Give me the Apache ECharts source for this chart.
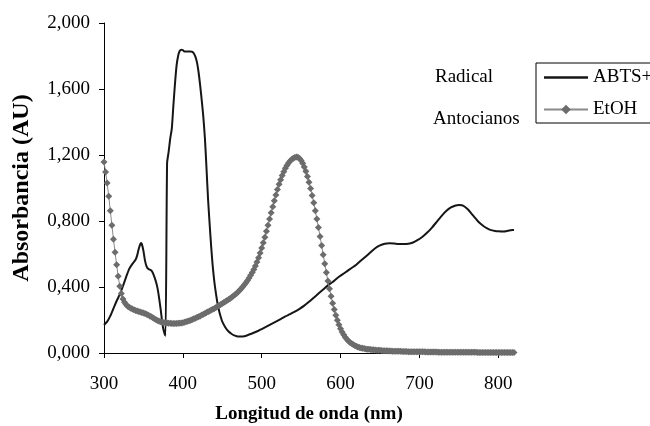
<!DOCTYPE html>
<html><head><meta charset="utf-8">
<script src="https://cdn.jsdelivr.net/npm/echarts@6/dist/echarts.min.js"></script>
<style>html,body{margin:0;padding:0;background:#fff}#c{width:650px;height:426px}</style>
</head><body><div id="c"></div>
<script>
const xTicks = [300, 400, 500, 600, 700, 800];
const yTicks = [0, 0.4, 0.8, 1.2, 1.6, 2.0];
const seriesNames = ['ABTS+', 'EtOH'];
const sideLabels = ['Radical', 'Antocianos'];

const abtsNm = [300,304,308,312,316,320,324,328,332,336,340,342,344,346,347,348,350,352,354,356,360,362,364,366,368,370,372,374,376,378,
  380,382,384,386,388,390,392,394,396,398,400,402,404,406,408,410,412,414,416,418,420,422,424,426,428,430,432,434,436,438,440,442,444,446,448,450,
  454,458,462,466,470,474,478,482,486,490,496,500,506,512,518,524,530,536,542,548,554,560,566,572,578,584,590,596,602,608,614,620,626,632,638,644,650,656,662,668,674,680,686,692,698,704,710,716,722,728,734,740,746,750,754,758,762,766,770,774,778,782,786,790,796,800,806,810,814,818,820];
const abtsAbs = [0.170,0.190,0.225,0.270,0.315,0.355,0.405,0.460,0.510,0.540,0.565,0.590,0.630,0.660,0.667,0.660,0.620,0.560,0.525,0.510,0.500,0.485,0.460,0.430,0.390,0.330,0.260,0.180,0.130,0.105,
  1.150,1.220,1.300,1.360,1.500,1.630,1.740,1.800,1.830,1.838,1.835,1.828,1.828,1.828,1.828,1.828,1.825,1.815,1.795,1.760,1.700,1.620,1.530,1.430,1.300,1.120,0.930,0.780,0.640,0.520,0.430,0.360,0.300,0.255,0.220,0.190,
  0.155,0.130,0.115,0.105,0.100,0.100,0.102,0.108,0.115,0.123,0.135,0.145,0.160,0.175,0.190,0.206,0.222,0.236,0.251,0.268,0.287,0.310,0.335,0.360,0.385,0.410,0.430,0.455,0.475,0.495,0.515,0.535,0.560,0.585,0.610,0.635,0.652,0.662,0.665,0.663,0.660,0.660,0.662,0.670,0.685,0.705,0.730,0.760,0.795,0.830,0.860,0.882,0.894,0.897,0.895,0.885,0.868,0.845,0.822,0.800,0.782,0.767,0.755,0.746,0.740,0.738,0.737,0.738,0.742,0.745,0.746];

const etohNm = [300,302,304,306,308,310,312,314,316,318,320,322,324,326,328,330,332,334,336,338,340,342,344,346,348,350,352,354,356,358,
  360,362,364,366,368,370,372,374,376,378,380,382,384,386,388,390,392,394,396,398,400,402,404,406,408,410,412,414,416,418,
  420,422,424,426,428,430,432,434,436,438,440,442,444,446,448,450,452,454,456,458,460,462,464,466,468,470,472,474,476,478,
  480,482,484,486,488,490,492,494,496,498,500,502,504,506,508,510,512,514,516,518,520,522,524,526,528,530,532,534,536,538,
  540,542,544,546,548,550,552,554,556,558,560,562,564,566,568,570,572,574,576,578,580,582,584,586,588,590,592,594,596,598,
  600,602,604,606,608,610,612,614,616,618,620,622,624,626,628,630,632,634,636,638,640,642,644,646,648,650,652,654,656,658,
  660,662,664,666,668,670,672,674,676,678,680,682,684,686,688,690,692,694,696,698,700,702,704,706,708,710,712,714,716,718,
  720,722,724,726,728,730,732,734,736,738,740,742,744,746,748,750,752,754,756,758,760,762,764,766,768,770,772,774,776,778,
  780,782,784,786,788,790,792,794,796,798,800,802,804,806,808,810,812,814,816,818,820];
const etohAbs = [1.157,1.097,1.030,0.950,0.862,0.775,0.690,0.610,0.535,0.465,
  0.405,0.360,0.328,0.308,0.294,0.284,0.277,0.271,0.266,0.262,
  0.258,0.255,0.252,0.249,0.246,0.243,0.239,0.235,0.230,0.225,
  0.219,0.213,0.207,0.202,0.197,0.193,0.190,0.187,0.185,0.183,
  0.182,0.181,0.180,0.179,0.179,0.179,0.179,0.180,0.181,0.182,
  0.184,0.186,0.189,0.192,0.195,0.199,0.203,0.207,0.211,0.216,
  0.220,0.225,0.230,0.235,0.240,0.245,0.250,0.255,0.260,0.265,
  0.270,0.276,0.282,0.288,0.294,0.300,0.306,0.312,0.318,0.324,
  0.331,0.338,0.345,0.353,0.361,0.370,0.380,0.390,0.401,0.413,
  0.426,0.440,0.455,0.471,0.488,0.506,0.528,0.552,0.578,0.606,
  0.636,0.668,0.702,0.738,0.775,0.812,0.850,0.887,0.923,0.958,
  0.991,1.022,1.050,1.076,1.099,1.119,1.136,1.151,1.163,1.173,
  1.180,1.185,1.188,1.186,1.179,1.167,1.150,1.128,1.101,1.070,
  1.035,0.997,0.955,0.910,0.862,0.812,0.760,0.706,0.651,0.596,
  0.541,0.488,0.437,0.389,0.344,0.302,0.264,0.229,0.198,0.171,
  0.147,0.127,0.110,0.095,0.083,0.073,0.064,0.057,0.051,0.045,
  0.041,0.037,0.034,0.031,0.029,0.027,0.025,0.023,0.022,0.021,
  0.020,0.019,0.018,0.017,0.016,0.016,0.015,0.014,0.014,0.013,
  0.013,0.012,0.012,0.011,0.011,0.011,0.010,0.010,0.010,0.009,
  0.009,0.009,0.009,0.008,0.008,0.008,0.008,0.008,0.007,0.007,
  0.007,0.007,0.007,0.007,0.006,0.006,0.006,0.006,0.006,0.006,
  0.006,0.006,0.005,0.005,0.005,0.005,0.005,0.005,0.005,0.005,
  0.005,0.005,0.005,0.004,0.004,0.004,0.004,0.004,0.004,0.004,
  0.004,0.004,0.004,0.004,0.004,0.004,0.004,0.003,0.003,0.003,
  0.003,0.003,0.003,0.003,0.003,0.003,0.003,0.003,0.003,0.003,
  0.003,0.003,0.003,0.003,0.003,0.003,0.003,0.003,0.003,0.003,
  0.003];

const FONT = 'Liberation Serif';
const chart = echarts.init(document.getElementById('c'), null, {renderer: 'canvas'});
const fmt = v => v.toFixed(3).replace('.', ',');

chart.setOption({
  backgroundColor: '#ffffff',
  animation: false,
  grid: {left: 104, right: 136, top: 23, bottom: 73, containLabel: false, outerBoundsMode: 'none'},
  xAxis: {
    type: 'value', min: 300, max: 820, interval: 100,
    name: 'Longitud de onda (nm)', nameLocation: 'middle', nameGap: 52,
    nameTextStyle: {fontFamily: FONT, fontSize: 19, fontWeight: 'bold', color: '#000'},
    axisLine: {show: true, lineStyle: {color: '#000', width: 1}},
    axisTick: {show: true, length: 5, inside: false, customValues: xTicks, lineStyle: {color: '#000'}},
    axisLabel: {customValues: xTicks, margin: 22, fontFamily: FONT, fontSize: 19, color: '#000'},
    splitLine: {show: false}
  },
  yAxis: {
    type: 'value', min: 0, max: 2, interval: 0.4,
    name: 'Absorbancia (AU)', nameLocation: 'middle', nameGap: 70,
    nameTextStyle: {fontFamily: FONT, fontSize: 24, fontWeight: 'bold', color: '#000'},
    axisLine: {show: true, lineStyle: {color: '#000', width: 1}},
    axisTick: {show: true, length: 5, customValues: yTicks, lineStyle: {color: '#000'}},
    axisLabel: {customValues: yTicks, formatter: fmt, margin: 14, fontFamily: FONT, fontSize: 19, color: '#000'},
    splitLine: {show: false}
  },
  legend: {
    orient: 'vertical', left: 536, top: 63,
    data: [
      {name: seriesNames[0], icon: 'path://M0,0 L44,0 L44,2.4 L0,2.4 Z', itemStyle: {color: '#161616'}},
      {name: seriesNames[1]}
    ],
    borderColor: '#000', borderWidth: 1, borderRadius: 0,
    padding: [5, 20, 4, 7],
    itemWidth: 44, itemHeight: 12, itemGap: 13,
    textStyle: {fontFamily: FONT, fontSize: 19, color: '#000'}
  },
  graphic: [
    {type: 'text', left: 435, top: 68, style: {text: sideLabels[0], font: '19px ' + FONT, fill: '#000'}},
    {type: 'text', left: 433, top: 110, style: {text: sideLabels[1], font: '19px ' + FONT, fill: '#000'}}
  ],
  series: [
    {
      name: seriesNames[0], type: 'line', symbol: 'none', smooth: 0.2,
      lineStyle: {color: '#161616', width: 2},
      itemStyle: {color: '#161616'},
      data: abtsNm.map((x, i) => [x, abtsAbs[i]])
    },
    {
      name: seriesNames[1], type: 'line', symbol: 'diamond', symbolSize: 7, showSymbol: true,
      lineStyle: {color: '#8a8a8a', width: 1},
      itemStyle: {color: '#6c6c6c'},
      data: etohNm.map((x, i) => [x, etohAbs[i]])
    }
  ]
});
</script></body></html>
